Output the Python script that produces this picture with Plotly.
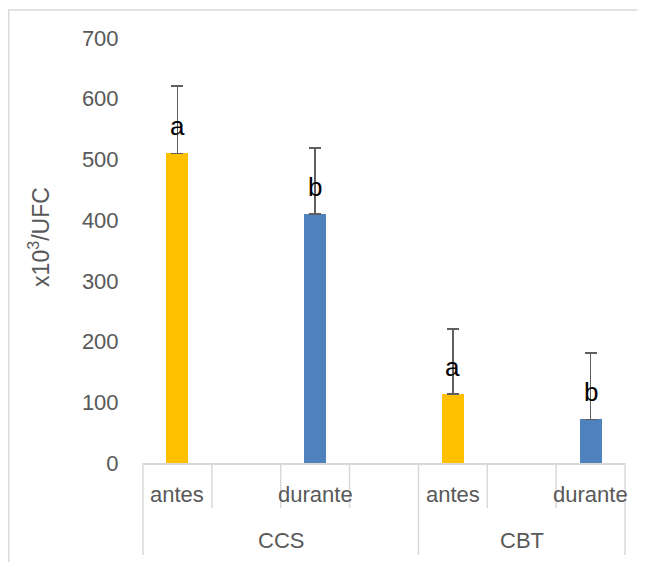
import plotly.graph_objects as go

# ---- data ----
slots = ["antes", "", "durante", "", "antes", "", "durante"]
slot_group = ["CCS", "CCS", "CCS", "CCS", "CBT", "CBT", "CBT"]
groups = ["CCS", "CBT"]
values = [510, None, 410, None, 114, None, 72]
errors = [111, None, 109, None, 107, None, 109]
letters = ["a", "", "b", "", "a", "", "b"]
y_title = "x10<sup>3</sup>/UFC"
y_ticks = [0, 100, 200, 300, 400, 500, 600, 700]

colors = {"antes": "#FFC000", "durante": "#4F81BD"}
GRAY = "#595959"
LINE = "#D9D9D9"
TICK_FONT = "Liberation Sans, Arial, sans-serif"
LETTER_FONT = "Liberation Sans Narrow, Arial Narrow, Liberation Sans, sans-serif"

# page is offset by the default 8px body margin
OFF = 8
W, H = 645 - OFF, 562 - OFF
L, R, T, B = 143 - OFF, 20, 38 - OFF, 99
plot_w = W - L - R
plot_h = H - T - B
n = len(slots)

fig = go.Figure()

for cond in ["antes", "durante"]:
    xs = [i for i, s in enumerate(slots) if s == cond and values[i] is not None]
    fig.add_trace(go.Bar(
        x=xs,
        y=[values[i] for i in xs],
        width=0.32,
        marker=dict(color=colors[cond], line=dict(width=0)),
        error_y=dict(type="data", symmetric=False,
                     array=[errors[i] for i in xs],
                     arrayminus=[0 for _ in xs],
                     color="#5f5f5f", thickness=1.5, width=6),
        showlegend=False,
        hoverinfo="skip",
    ))

annotations = []
# significance letters
for i, t in enumerate(letters):
    if t and values[i] is not None:
        annotations.append(dict(x=i, y=values[i], xref="x", yref="y", text=t,
                                showarrow=False, yanchor="middle", yshift=27,
                                font=dict(family=LETTER_FONT, size=26, color="black")))
# category labels
for i, s in enumerate(slots):
    if s:
        annotations.append(dict(x=i, y=0, xref="x", yref="paper", text=s,
                                showarrow=False, yanchor="middle", yshift=-31,
                                font=dict(family=TICK_FONT, size=22, color=GRAY)))
# group labels
for g in groups:
    idx = [i for i, sg in enumerate(slot_group) if sg == g]
    annotations.append(dict(x=(idx[0] + idx[-1]) / 2, y=0, xref="x", yref="paper",
                            text=g, showarrow=False, yanchor="middle", yshift=-77,
                            font=dict(family=TICK_FONT, size=22, color=GRAY)))
# y title
annotations.append(dict(x=0, y=0.532, xref="paper", yref="paper", text=y_title,
                        showarrow=False, textangle=-90, xanchor="center",
                        yanchor="middle", xshift=-104,
                        font=dict(family=TICK_FONT, size=23, color=GRAY)))

shapes = []
# category separators
group_bounds = {0, n}
for i in range(1, n):
    if slot_group[i] != slot_group[i - 1]:
        group_bounds.add(i)
for k in range(n + 1):
    full = k in group_bounds
    y1 = -(555 - 463) / plot_h if full else -(508 - 463) / plot_h
    shapes.append(dict(type="line", xref="paper", yref="paper",
                       x0=k / n, x1=k / n, y0=0, y1=y1,
                       line=dict(color=LINE, width=1.5)))
# outer chart border (left and top edges visible)
shapes.append(dict(type="rect", xref="paper", yref="paper",
                   x0=(0.8 - L) / plot_w, x1=(W + 20 - L) / plot_w,
                   y0=-(B + 20) / plot_h,
                   y1=1 + (T - 2) / plot_h,
                   line=dict(color=LINE, width=1.5), fillcolor="rgba(0,0,0,0)"))

fig.update_layout(
    width=W, height=H,
    margin=dict(l=L, r=R, t=T, b=B),
    paper_bgcolor="white", plot_bgcolor="white",
    bargap=0,
    xaxis=dict(range=[-0.5, n - 0.5], showticklabels=False, showgrid=False,
               zeroline=False, showline=True, linecolor=LINE, linewidth=1.5,
               ticks=""),
    yaxis=dict(range=[0, 700], tickvals=y_ticks, showgrid=False, zeroline=False,
               showline=False, ticks="outside", ticklen=19,
               tickcolor="rgba(0,0,0,0)",
               tickfont=dict(family=TICK_FONT, size=22, color=GRAY)),
    annotations=annotations,
    shapes=shapes,
)

fig.write_html("out.html")
